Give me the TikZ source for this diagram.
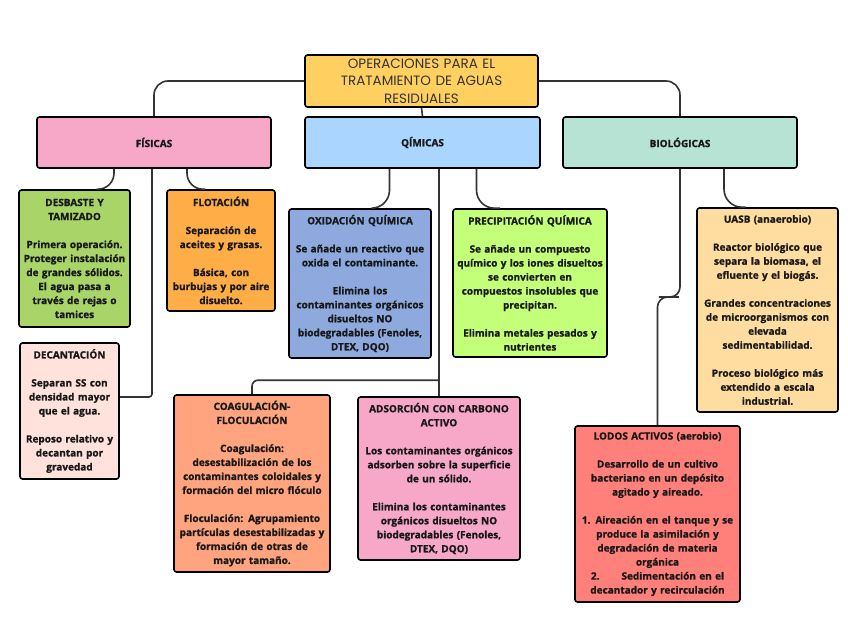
\documentclass[tikz,border=0pt]{standalone}
\usepackage{fontspec}
\setmainfont{Open Sans}[BoldFeatures={FakeBold=1.2}]
\newfontfamily\titlefont{Poppins}
\usepackage{tikz}
\usetikzlibrary{calc}

\definecolor{colTitulo}{HTML}{FFD060}
\definecolor{colFis}{HTML}{F7A8C8}
\definecolor{colQui}{HTML}{A9D5FF}
\definecolor{colBio}{HTML}{B6E3D4}
\definecolor{colDes}{HTML}{A8D468}
\definecolor{colFlo}{HTML}{FFAD47}
\definecolor{colDec}{HTML}{FFE2DC}
\definecolor{colOxi}{HTML}{8DA9DD}
\definecolor{colPre}{HTML}{C4FF7A}
\definecolor{colCoa}{HTML}{FFA47E}
\definecolor{colAds}{HTML}{F7A8C8}
\definecolor{colUas}{HTML}{FFDDA0}
\definecolor{colLod}{HTML}{FF7F7A}

\tikzset{
	box/.style={draw=black, line width=1.6pt, rounded corners=2.5pt, align=center,
		inner sep=2pt, font=\bfseries\fontsize{10}{14}\selectfont, text=black!90},
	conn/.style={draw=black!80, line width=1.6pt, rounded corners=14pt}
}

\begin{document}
\begin{tikzpicture}[x=1pt, y=-1pt]
	\useasboundingbox (0,0) rectangle (848,636);
	
	\node[box, fill=colTitulo, text width=229pt, minimum height=52pt, font=\titlefont\fontsize{13.5}{17.5}\selectfont, text=black!80] (titulo) at (421.5, 81) {OPERACIONES PARA EL\\TRATAMIENTO DE AGUAS\\RESIDUALES};
	
	\node[box, fill=colFis, text width=230pt, minimum height=51pt] (fis) at (154, 142.5) {FÍSICAS};
	\node[box, fill=colQui, text width=231pt, minimum height=51pt] (qui) at (422.5, 142.5) {QÍMICAS};
	\node[box, fill=colBio, text width=230pt, minimum height=51pt] (bio) at (680, 142.5) {BIOLÓGICAS};
	
	\node[box, fill=colDes, text width=107pt, minimum height=137pt] (des) at (74.5, 258.5) {DESBASTE Y\\TAMIZADO\\[14pt]Primera operación.\\Proteger instalación\\de grandes sólidos.\\El agua pasa a\\través de rejas o\\tamices};
	\node[box, fill=colFlo, text width=104pt, minimum height=121pt] (flo) at (221, 250.5) {FLOTACIÓN\\[14pt]Separación de\\aceites y grasas.\\[14pt]Básica, con\\burbujas y por aire\\disuelto.};
	\node[box, fill=colDec, text width=95pt, minimum height=136pt] (dec) at (69.5, 411) {DECANTACIÓN\\[14pt]Separan SS con\\densidad mayor\\que el agua.\\[14pt]Reposo relativo y\\decantan por\\gravedad};
	
	\node[box, fill=colOxi, text width=138pt, minimum height=149pt] (oxi) at (360, 283.5) {OXIDACIÓN QUÍMICA\\[14pt]Se añade un reactivo que\\oxida el contaminante.\\[14pt]Elimina los\\contaminantes orgánicos\\disueltos NO\\biodegradables (Fenoles,\\DTEX, DQO)};
	\node[box, fill=colPre, text width=150pt, minimum height=148pt] (pre) at (530, 283) {PRECIPITACIÓN QUÍMICA\\[14pt]Se añade un compuesto\\químico y los iones disueltos\\se convierten en\\compuestos insolubles que\\precipitan.\\[14pt]Elimina metales pesados y\\nutrientes};
	\node[box, fill=colCoa, text width=152pt, minimum height=177pt] (coa) at (252, 483.5) {COAGULACIÓN-\\FLOCULACIÓN\\[14pt]Coagulación:\\desestabilización de los\\contaminantes coloidales y\\formación del micro flóculo\\[14pt]Floculación: Agrupamiento\\partículas desestabilizadas y\\formación de otras de\\mayor tamaño.};
	\node[box, fill=colAds, text width=158pt, minimum height=163pt] (ads) at (439, 478.5) {ADSORCIÓN CON CARBONO\\ACTIVO\\[14pt]Los contaminantes orgánicos\\adsorben sobre la superficie\\de un sólido.\\[14pt]Elimina los contaminantes\\orgánicos disueltos NO\\biodegradables (Fenoles,\\DTEX, DQO)};
	
	\node[box, fill=colUas, text width=137pt, minimum height=204pt] (uas) at (767.5, 310) {UASB (anaerobio)\\[14pt]Reactor biológico que\\separa la biomasa, el\\efluente y el biogás.\\[14pt]Grandes concentraciones\\de microorganismos con\\elevada\\sedimentabilidad.\\[14pt]Proceso biológico más\\extendido a escala\\industrial.};
	\node[box, fill=colLod, text width=161pt, minimum height=176pt] (lod) at (657.5, 514) {LODOS ACTIVOS (aerobio)\\[14pt]Desarrollo de un cultivo\\bacteriano en un depósito\\agitado y aireado.\\[14pt]1. Aireación en el tanque y se\\produce la asimilación y\\degradación de materia\\orgánica\\2.\hspace{2.2em}Sedimentación en el\\decantador y recirculación};
	
	\draw[conn] (titulo.west) -| (fis.north);
	\draw[conn] (titulo.east) -| (bio.north);
	\draw[conn] (titulo.south) -- (qui.north);
	
	\draw[conn, rounded corners=16pt] ([xshift=-40pt]fis.south) |- ([xshift=22pt]des.north);
	\draw[conn, rounded corners=16pt] ([xshift=33pt]fis.south) |- ([xshift=-16pt]flo.north);
	\draw[conn, rounded corners=3pt] ([xshift=-2pt]fis.south) |- ([yshift=14pt]dec.east);
	
	\draw[conn, rounded corners=18pt] ([xshift=-33pt]qui.south) |- ([xshift=12pt]oxi.north);
	\draw[conn, rounded corners=18pt] ([xshift=54pt]qui.south) |- ([xshift=-30pt]pre.north);
	\draw[conn] (qui.south -| ads.north) -- (ads.north);
	\draw[conn, rounded corners=6pt] ([yshift=16pt]ads.north) -| (coa.north);
	
	\draw[conn, rounded corners=18pt] ([xshift=44pt]bio.south) |- ([xshift=-22pt]uas.north);
	\draw[conn, rounded corners=10pt] (bio.south) |- ($(bio.south)!0.5!(lod.north)$) -| (lod.north);
\end{tikzpicture}
\end{document}
